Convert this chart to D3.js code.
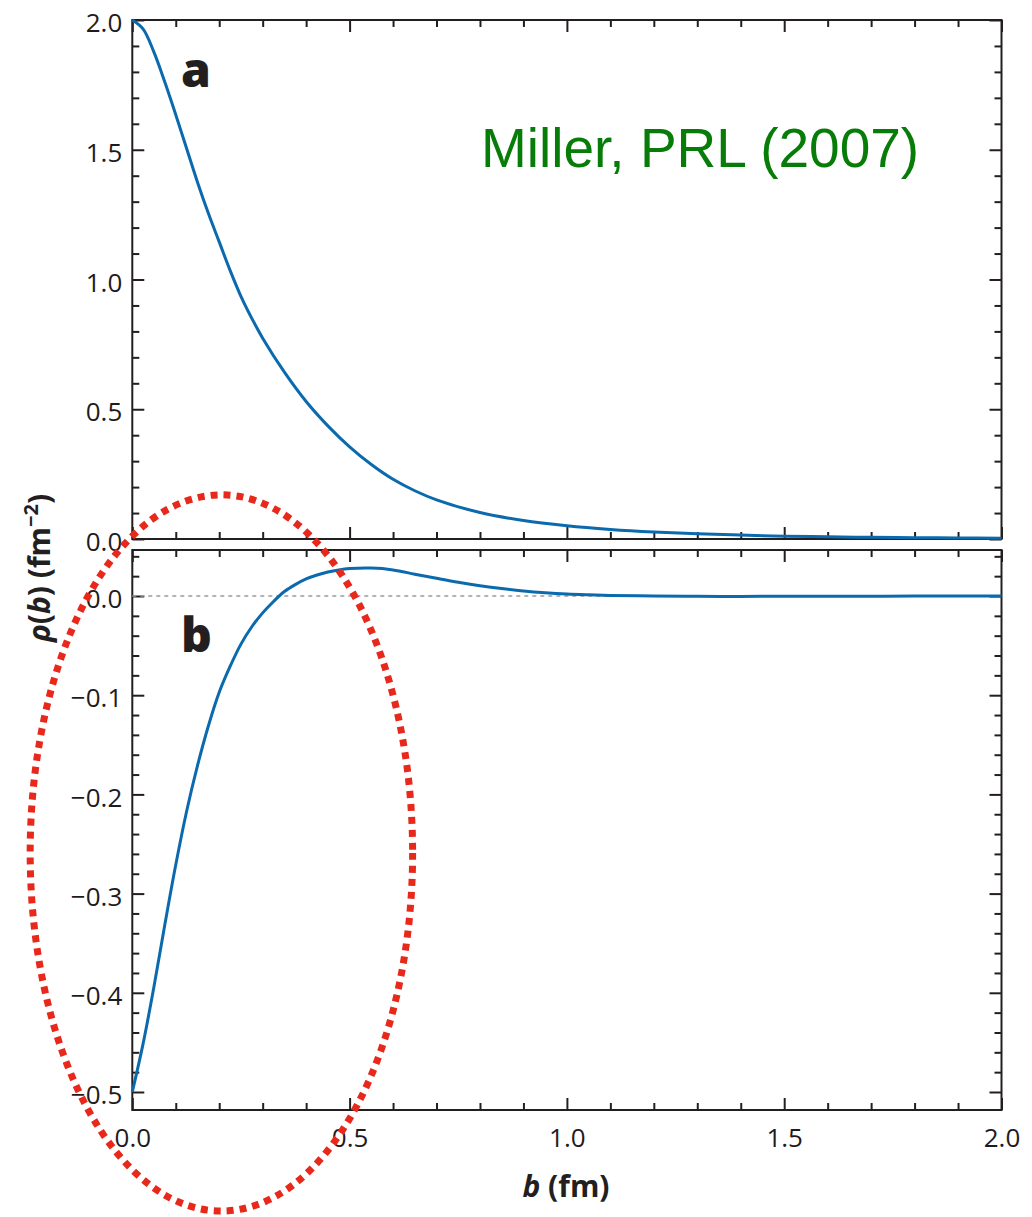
<!DOCTYPE html>
<html>
<head>
<meta charset="utf-8">
<script src="https://cdn.jsdelivr.net/npm/d3@7"></script>
<style>
  body { margin: 0; background: #fff; }
  .tick text { font-family: "Open Sans", sans-serif; font-size: 26px; fill: #1f1b1c; }
  .tick line { stroke: #231f20; stroke-width: 2; }
  .frame { fill: none; stroke: #231f20; stroke-width: 2; }
  .curve { fill: none; stroke: #0b6aad; stroke-width: 3; }
  .title { font-family: "Open Sans", sans-serif; font-weight: 700; font-size: 30px; fill: #231f20; }
  .panel-label { font-family: "Open Sans", sans-serif; font-weight: 800; font-size: 48px; fill: #231f20; }
  .ref { font-family: "Liberation Sans", Arial, sans-serif; font-size: 55px; fill: #087c08; }
</style>
</head>
<body>
<div id="density"></div>
<script>
// panel a : transverse charge density
const bTotal = [0, 0.025, 0.05, 0.075, 0.1, 0.125, 0.15, 0.175, 0.2, 0.225, 0.25, 0.275, 0.3, 0.35, 0.4, 0.45,
  0.5, 0.55, 0.6, 0.65, 0.7, 0.8, 0.9, 1.0, 1.1, 1.2, 1.3, 1.4, 1.5, 1.6, 1.7, 1.8, 1.9, 2.0];
const rhoTotal = [2.0, 1.965, 1.875, 1.76, 1.635, 1.505, 1.375, 1.255, 1.145, 1.035, 0.935, 0.85, 0.774, 0.643, 0.53, 0.436,
  0.355, 0.287, 0.23, 0.186, 0.151, 0.102, 0.071, 0.051, 0.037, 0.027, 0.02, 0.015, 0.011, 0.0085, 0.0065, 0.005, 0.004, 0.003];

// panel b : the difference curve
const bDiff = [0, 0.025, 0.05, 0.075, 0.1, 0.125, 0.15, 0.175, 0.2, 0.225, 0.25, 0.275, 0.3, 0.325, 0.35, 0.375,
  0.4, 0.425, 0.45, 0.475, 0.5, 0.55, 0.6, 0.65, 0.7, 0.75, 0.8, 0.85, 0.9, 0.95, 1.0, 1.05, 1.1, 1.2, 1.3, 1.4,
  1.5, 1.6, 1.8, 2.0];
const rhoDiff = [-0.5, -0.451, -0.3935, -0.331, -0.271, -0.217, -0.171, -0.131, -0.097, -0.071, -0.0485, -0.031, -0.017, -0.0055, 0.0045, 0.0115,
  0.0172, 0.0212, 0.0242, 0.0263, 0.0276, 0.0281, 0.0263, 0.022, 0.0178, 0.0138, 0.0104, 0.0075, 0.0051, 0.0033, 0.002, 0.0012, 0.0006, 0.0001, -0.0003, -0.0004,
  -0.0003, -0.0002, -0.0001, 0];

const xTicks = [0, 0.5, 1.0, 1.5, 2.0];
const xTickLabels = ["0.0", "0.5", "1.0", "1.5", "2.0"];
const yTicksA = [0, 0.5, 1.0, 1.5, 2.0];
const yTickLabelsA = ["0.0", "0.5", "1.0", "1.5", "2.0"];
const yTicksB = [0, -0.1, -0.2, -0.3, -0.4, -0.5];
const yTickLabelsB = ["0.0", "\u22120.1", "\u22120.2", "\u22120.3", "\u22120.4", "\u22120.5"];

function drawDensity () {
  const svgWidth = 1032;
  const svgHeight = 1217;
  const left = 132.3, right = 1001.5;
  const panelA = { top: 20, bottom: 539 };
  const panelB = { top: 550, bottom: 1110 };
  const majorLen = 12, minorLen = 7;

  const svg = d3.select("#density")
    .append("svg")
    .attr("width", svgWidth)
    .attr("height", svgHeight);

  // Step 1: scales
  const x = d3.scaleLinear().domain([0, 2]).range([left, right]);
  const yA = d3.scaleLinear().domain([0, 2]).range([panelA.bottom, panelA.top]);
  const yB = d3.scaleLinear().domain([-0.51815, 0.04637]).range([panelB.bottom, panelB.top]);

  const xMinor = d3.range(0, 2.0001, 0.1).filter(v => Math.abs(v * 2 - Math.round(v * 2)) > 1e-6);
  const yMinorA = d3.range(0, 2.0001, 0.1).filter(v => Math.abs(v * 2 - Math.round(v * 2)) > 1e-6);
  const yMinorB = d3.range(-0.5, 0.041, 0.02).filter(v => Math.abs(v * 10 - Math.round(v * 10)) > 1e-6);

  // Step 2: ticks on all four sides, pointing inward
  function panelAxes (y, panel, majorY, minorY, labels, showX) {
    const g = svg.append("g");
    // left, with labels
    g.append("g").attr("transform", `translate(${left},0)`)
      .call(d3.axisLeft(y).tickValues(majorY).tickSize(-majorLen).tickPadding(10)
        .tickFormat((d, i) => labels[i]))
      .call(a => a.selectAll("text").attr("dy", "0.45em"));
    g.append("g").attr("transform", `translate(${left},0)`)
      .call(d3.axisLeft(y).tickValues(minorY).tickSize(-minorLen).tickFormat(""));
    // right
    g.append("g").attr("transform", `translate(${right},0)`)
      .call(d3.axisRight(y).tickValues(majorY).tickSize(-majorLen).tickFormat(""));
    g.append("g").attr("transform", `translate(${right},0)`)
      .call(d3.axisRight(y).tickValues(minorY).tickSize(-minorLen).tickFormat(""));
    // top
    g.append("g").attr("transform", `translate(0,${panel.top})`)
      .call(d3.axisTop(x).tickValues(xTicks).tickSize(-majorLen).tickFormat(""));
    g.append("g").attr("transform", `translate(0,${panel.top})`)
      .call(d3.axisTop(x).tickValues(xMinor).tickSize(-minorLen).tickFormat(""));
    // bottom
    g.append("g").attr("transform", `translate(0,${panel.bottom})`)
      .call(d3.axisBottom(x).tickValues(xTicks).tickSize(-majorLen).tickPadding(19)
        .tickFormat((d, i) => showX ? xTickLabels[i] : ""));
    g.append("g").attr("transform", `translate(0,${panel.bottom})`)
      .call(d3.axisBottom(x).tickValues(xMinor).tickSize(-minorLen).tickFormat(""));
    g.selectAll(".domain").remove();
    g.append("rect").classed("frame", true)
      .attr("x", left).attr("y", panel.top)
      .attr("width", right - left).attr("height", panel.bottom - panel.top);
  }

  panelAxes(yA, panelA, yTicksA, yMinorA, yTickLabelsA, false);
  panelAxes(yB, panelB, yTicksB, yMinorB, yTickLabelsB, true);

  // Step 3: zero line in panel b
  svg.append("line")
    .attr("x1", x(0)).attr("x2", x(2))
    .attr("y1", yB(0)).attr("y2", yB(0))
    .attr("stroke", "#9a9a9a").attr("stroke-width", 1.3)
    .attr("stroke-dasharray", "4 4");

  // Step 4: curves
  const lineA = d3.line().x(d => x(d[0])).y(d => yA(d[1])).curve(d3.curveCatmullRom.alpha(0.5));
  const lineB = d3.line().x(d => x(d[0])).y(d => yB(d[1])).curve(d3.curveCatmullRom.alpha(0.5));
  svg.append("path").classed("curve", true)
    .attr("d", lineA(bTotal.map((b, i) => [b, rhoTotal[i]])));
  svg.append("path").classed("curve", true)
    .attr("d", lineB(bDiff.map((b, i) => [b, rhoDiff[i]])));

  // Step 5: labels
  svg.append("text").classed("panel-label", true).attr("x", 181).attr("y", 87).text("a");
  svg.append("text").classed("panel-label", true).attr("x", 181).attr("y", 652).text("b");
  svg.append("text").classed("ref", true).attr("x", 481).attr("y", 167).text("Miller, PRL (2007)");

  const xTitle = svg.append("text").classed("title", true)
    .attr("x", 566).attr("y", 1197).attr("text-anchor", "middle");
  xTitle.append("tspan").attr("font-style", "italic").text("b");
  xTitle.append("tspan").text(" (fm)");

  const yTitle = svg.append("text").classed("title", true)
    .attr("transform", "translate(50,568) rotate(-90)")
    .attr("text-anchor", "middle");
  yTitle.append("tspan").attr("font-style", "italic").text("\u03c1");
  yTitle.append("tspan").text("(");
  yTitle.append("tspan").attr("font-style", "italic").text("b");
  yTitle.append("tspan").text(") (fm");
  yTitle.append("tspan").attr("font-size", "20px").attr("dy", -12).text("\u22122");
  yTitle.append("tspan").attr("dy", 12).text(")");

  // Step 6: red dotted highlight
  svg.append("ellipse")
    .attr("cx", x(0.205)).attr("cy", yB(-0.259))
    .attr("rx", x(0.44) - x(0)).attr("ry", yB(-0.62) - yB(-0.259))
    .attr("fill", "none").attr("stroke", "#e8281b")
    .attr("stroke-width", 7).attr("stroke-dasharray", "7 6");
}

drawDensity();
</script>
</body>
</html>
